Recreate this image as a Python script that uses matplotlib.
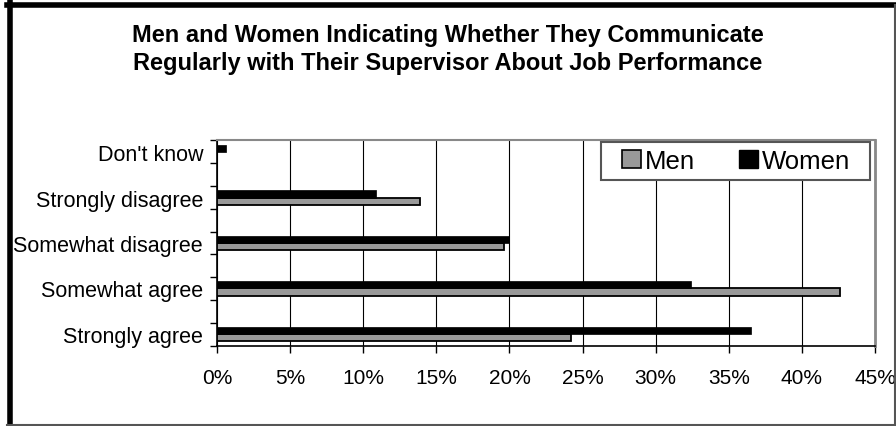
import matplotlib.pyplot as plt
import matplotlib.patches as mpatches
from matplotlib.lines import Line2D
import numpy as np

plt.rcParams['font.family'] = ['Liberation Sans', 'DejaVu Sans']

categories = ["Strongly agree", "Somewhat agree", "Somewhat disagree",
              "Strongly disagree", "Don't know"]
men = [24.2, 42.6, 19.6, 13.9, 0.0]
women = [36.5, 32.4, 20.0, 10.9, 0.6]
xticks = [0, 5, 10, 15, 20, 25, 30, 35, 40, 45]

W, H = 896, 427
fig = plt.figure(figsize=(W / 100, H / 100), dpi=100)

# plot area in pixels: left 217, right 875, top 141, bottom 347
ax = fig.add_axes([217 / W, 1 - 347 / H, (875 - 217) / W, (347 - 141) / H])

y = np.arange(len(categories))
bh = 0.16
ax.barh(y - bh / 2, men, height=bh, color='#999999', edgecolor='black',
        linewidth=1.3, zorder=3, label='Men')
ax.barh(y + bh / 2, women, height=bh, color='black', edgecolor='black',
        linewidth=0.5, zorder=3, label='Women')

ylo, yhi = -0.264, 4.264
ax.set_ylim(ylo, yhi)
ax.set_xlim(0, 45)

ax.set_yticks(y)
ax.set_yticklabels(categories, fontsize=15.5)
ax.tick_params(axis='y', which='major', length=0, pad=10)
ax.set_yticks(np.linspace(ylo, yhi, 10), minor=True)
ax.tick_params(axis='y', which='minor', length=5, width=1, direction='out')

ax.set_xticks(xticks)
ax.set_xticklabels([f"{v}%" for v in xticks], fontsize=15)
ax.tick_params(axis='x', length=5, width=1, direction='out', pad=11)

ax.grid(axis='x', color='black', linewidth=0.8, zorder=0)
ax.set_axisbelow(True)

ax.spines['left'].set_color('black')
ax.spines['left'].set_linewidth(1.2)
ax.spines['bottom'].set_color('black')
ax.spines['bottom'].set_linewidth(1.2)
ax.spines['top'].set_color('#888888')
ax.spines['top'].set_linewidth(1.5)
ax.spines['right'].set_color('#888888')
ax.spines['right'].set_linewidth(2)

# legend box
fig.add_artist(mpatches.Rectangle((601 / W, 1 - 181 / H), (870 - 601) / W, (181 - 143) / H,
                                  transform=fig.transFigure, facecolor='white',
                                  edgecolor='#555555', linewidth=1.5, zorder=4))
handles = [mpatches.Patch(facecolor='#999999', edgecolor='black', linewidth=1.2, label='Men'),
           mpatches.Patch(facecolor='black', edgecolor='black', label='Women')]
leg = fig.legend(handles=handles, ncol=2, fontsize=18.5, frameon=False,
                 loc='center left', bbox_to_anchor=(617 / W, 1 - 162 / H),
                 handlelength=0.75, handleheight=0.75, handletextpad=0.15,
                 borderaxespad=0, columnspacing=1.7, borderpad=0.2)
leg.set_zorder(5)

fig.text(0.5, 1 - 42 / H, "Men and Women Indicating Whether They Communicate",
         ha='center', va='baseline', fontsize=17, fontweight='bold')
fig.text(0.5, 1 - 70 / H, "Regularly with Their Supervisor About Job Performance",
         ha='center', va='baseline', fontsize=17, fontweight='bold')

# outer chart border
fig.add_artist(Line2D([9.5 / W, 9.5 / W], [0, 1 - 3 / H], color='black', linewidth=4))
fig.add_artist(Line2D([7 / W, 1], [1 - 6 / H, 1 - 6 / H], color='black', linewidth=4))
fig.add_artist(Line2D([7 / W, 1], [1 / H, 1 / H], color='#555555', linewidth=1.5))
fig.add_artist(Line2D([1 - 1 / W, 1 - 1 / W], [0, 1 - 6 / H], color='#555555', linewidth=1.5))

fig.savefig("out.png", dpi=100)
